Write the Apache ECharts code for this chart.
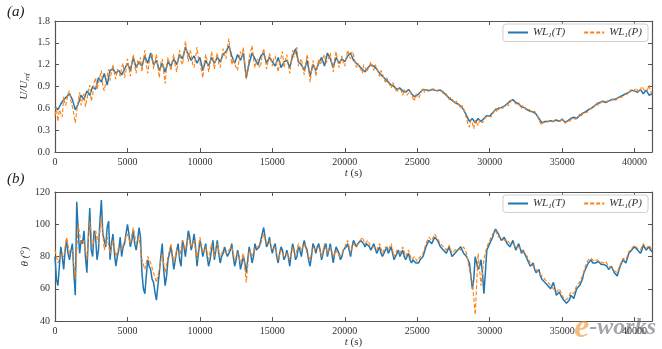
<!DOCTYPE html>
<html><head><meta charset="utf-8">
<script src="https://cdn.jsdelivr.net/npm/echarts@6/dist/echarts.min.js"></script>
<style>html,body{margin:0;padding:0;background:#fff}#c{width:662px;height:349px}</style>
</head><body><div id="c"></div>
<script>
// sampling steps of the time axis (s)
const stepCoarse = 200;
const stepFine = 100;
const xTicks = [0, 5000, 10000, 15000, 20000, 25000, 30000, 35000, 40000];
const uTicks = [0.0, 0.3, 0.6, 0.9, 1.2, 1.5, 1.8];
const thetaTicks = [40, 60, 80, 100, 120];
const seriesNames = ['WL1(T)', 'WL1(P)'];

// (a) U/Uref, true (step 200 s)
const uTrue = [
0.62,0.58,0.66,0.72,0.76, 0.80,0.72,0.58,0.66,0.78, 0.72,0.84,0.78,0.90,0.86, 1.02,0.96,1.08,0.92,1.12,
1.14,1.08,1.12,1.06,1.14, 1.22,1.12,1.30,1.16,1.24, 1.18,1.32,1.22,1.36,1.20, 1.26,1.12,1.22,1.10,1.24,
1.18,1.28,1.20,1.34,1.28, 1.44,1.34,1.26,1.32,1.22, 1.30,1.12,1.26,1.18,1.30, 1.22,1.30,1.24,1.34,1.38,
1.46,1.32,1.22,1.34,1.26, 1.36,1.02,1.22,1.36,1.28, 1.20,1.32,1.36,1.22,1.30, 1.24,1.18,1.30,1.16,1.24,
1.26,1.16,1.32,1.42,1.24, 1.20,1.12,1.26,1.04,1.20, 1.12,1.22,1.30,1.18,1.36, 1.28,1.16,1.30,1.22,1.28,
1.24,1.32,1.36,1.26,1.22, 1.18,1.14,1.10,1.16,1.20, 1.18,1.14,1.08,1.04,1.00, 0.96,0.92,0.90,0.86,0.88,
0.84,0.82,0.86,0.80,0.76, 0.78,0.82,0.86,0.85,0.84, 0.86,0.85,0.84,0.85,0.82, 0.78,0.74,0.71,0.68,0.66,
0.63,0.58,0.50,0.42,0.46, 0.40,0.46,0.42,0.46,0.50, 0.49,0.54,0.58,0.60,0.61, 0.63,0.66,0.70,0.72,0.68,
0.66,0.62,0.61,0.58,0.56, 0.55,0.52,0.46,0.40,0.42, 0.42,0.43,0.42,0.44,0.42, 0.45,0.41,0.43,0.46,0.48,
0.46,0.50,0.53,0.55,0.58, 0.60,0.63,0.66,0.68,0.70, 0.68,0.70,0.72,0.72,0.74, 0.76,0.78,0.80,0.82,0.85,
0.84,0.82,0.86,0.80,0.85, 0.78,0.80];
// (a) U/Uref, predicted (step 100 s)
const uPred = [
0.50,0.62,0.42,0.58,0.60,0.48,0.76,0.64,0.68,0.80, 0.84,0.70,0.62,0.52,0.40,0.56,0.70,0.82,0.64,0.74,
0.80,0.62,0.72,0.84,0.92,0.70,0.78,0.96,1.02,0.86, 0.88,1.04,1.12,0.90,0.84,0.96,1.04,1.14,0.98,1.10,
1.20,1.08,1.00,1.14,1.10,1.04,1.16,1.22,1.02,1.12, 1.28,1.16,1.04,1.22,1.34,1.18,1.08,1.26,1.20,1.30,
1.10,1.26,1.40,1.20,1.08,1.24,1.30,1.36,1.14,1.24, 1.34,1.18,1.02,1.22,1.28,1.10,0.94,1.16,1.30,1.22,
1.12,1.26,1.34,1.18,1.10,1.28,1.40,1.24,1.20,1.34, 1.52,1.36,1.24,1.40,1.36,1.20,1.16,1.30,1.44,1.28,
1.24,1.12,1.02,1.22,1.34,1.26,1.10,1.20,1.38,1.30, 1.14,1.28,1.36,1.22,1.16,1.30,1.42,1.34,1.28,1.44,
1.56,1.36,1.20,1.28,1.30,1.16,1.12,1.26,1.38,1.30, 1.44,1.22,1.00,1.14,1.30,1.38,1.46,1.28,1.16,1.24,
1.28,1.16,1.20,1.34,1.42,1.30,1.14,1.24,1.36,1.28, 1.18,1.28,1.32,1.20,1.10,1.22,1.30,1.38,1.16,1.26,
1.34,1.20,1.08,1.24,1.40,1.30,1.32,1.44,1.18,1.24, 1.28,1.16,1.06,1.20,1.34,1.22,0.96,1.10,1.26,1.18,
1.04,1.16,1.28,1.20,1.24,1.30,1.34,1.22,1.22,1.30, 1.36,1.22,1.10,1.28,1.38,1.26,1.16,1.24,1.32,1.22,
1.18,1.30,1.40,1.32,1.28,1.38,1.34,1.24,1.16,1.22, 1.24,1.14,1.08,1.20,1.16,1.10,1.10,1.18,1.24,1.16,
1.12,1.20,1.18,1.10,1.04,1.12,1.08,1.00,0.96,1.02, 1.00,0.92,0.88,0.96,0.94,0.86,0.82,0.88,0.90,0.84,
0.78,0.86,0.86,0.78,0.76,0.84,0.84,0.74,0.70,0.80, 0.80,0.74,0.76,0.84,0.88,0.82,0.82,0.86,0.86,0.84,
0.84,0.87,0.88,0.84,0.82,0.86,0.86,0.83,0.80,0.82, 0.80,0.76,0.72,0.75,0.74,0.70,0.66,0.70,0.68,0.64,
0.60,0.64,0.62,0.54,0.46,0.38,0.34,0.44,0.40,0.32, 0.44,0.40,0.36,0.44,0.46,0.40,0.42,0.47,0.48,0.50,
0.52,0.48,0.50,0.56,0.60,0.55,0.57,0.61,0.63,0.60, 0.60,0.66,0.68,0.64,0.66,0.71,0.73,0.69,0.66,0.68,
0.68,0.63,0.60,0.64,0.63,0.58,0.56,0.59,0.58,0.55, 0.53,0.56,0.54,0.49,0.44,0.40,0.37,0.41,0.43,0.40,
0.40,0.43,0.44,0.41,0.40,0.44,0.45,0.42,0.40,0.43, 0.46,0.42,0.39,0.42,0.44,0.41,0.44,0.47,0.49,0.45,
0.44,0.48,0.52,0.49,0.51,0.55,0.57,0.54,0.56,0.60, 0.62,0.59,0.61,0.65,0.68,0.64,0.66,0.69,0.71,0.68,
0.67,0.70,0.72,0.69,0.70,0.73,0.74,0.71,0.73,0.76, 0.78,0.75,0.76,0.80,0.82,0.79,0.80,0.85,0.87,0.83,
0.82,0.88,0.86,0.82,0.84,0.90,0.88,0.84,0.82,0.86, 0.92,0.84,0.80];
// (b) theta, true (step 100 s)
const thTrue = [
80,66,62,74,86,80,72,84,90,82, 78,84,88,70,56,114,96,82,90,88, 96,80,70,92,110,84,80,96,92,78,
84,102,115,94,90,86,98,102,78,88, 94,82,74,80,84,92,80,86,88,94, 100,94,86,90,96,88,84,90,98,92,
70,60,57,68,78,74,72,66,64,58, 53,62,70,80,88,72,62,68,78,82, 86,80,72,78,84,88,78,74,90,86,
80,88,96,92,84,88,94,86,74,82, 90,86,80,84,88,80,74,78,84,90, 78,84,90,82,76,80,82,86,86,80,
80,84,88,80,74,78,84,80,72,76, 80,76,70,78,86,82,76,80,88,84, 84,86,90,94,98,92,86,88,92,86,
82,86,88,80,76,82,86,84,78,80, 84,80,74,82,88,84,78,80,86,84, 80,86,90,86,84,78,74,80,88,86,
82,86,88,84,78,82,86,88,80,84, 88,82,76,82,86,84,82,78,80,84, 84,86,88,84,80,86,90,88,86,88,
88,90,91,88,86,88,89,86,84,86, 88,85,82,84,86,82,80,82,84,86, 82,84,86,82,78,80,82,84,80,82,
84,80,78,80,82,78,76,78,78,76, 75,76,78,79,80,83,86,88,90,89, 88,90,92,91,90,88,86,85,84,83,
82,84,86,83,80,81,82,83,84,85, 86,84,82,81,80,78,76,68,60,66, 80,76,72,74,78,70,57,70,84,86,
88,90,92,95,97,96,94,92,90,91, 92,90,88,87,86,88,90,87,84,86, 88,85,82,84,85,80,78,76,74,75,
76,72,70,71,72,68,66,65,64,63, 62,61,60,62,64,60,56,57,58,56, 55,53,52,51,51,53,56,55,54,57,
60,61,62,64,66,70,72,74,76,77, 78,76,75,76,77,77,76,75,74,75, 76,74,72,73,74,72,70,69,68,71,
74,76,78,77,76,79,82,83,84,85, 86,85,84,83,82,84,87,86,84,85, 86,84,83];
// (b) theta, predicted (step 200 s)
const thPred = [
84,76,82,80,92, 82,84,66,100,88, 90,78,102,86,96, 88,104,84,92,82,
90,80,86,84,90, 94,88,98,88,92, 78,72,80,76,70, 64,72,82,70,80,
88,76,84,80,90, 84,92,86,90,78, 92,82,86,78,88, 80,88,80,84,82,
84,86,78,82,76, 82,64,84,80,86, 86,88,94,88,90, 84,86,78,84,80,
82,78,86,80,88, 84,88,82,78,86, 84,86,80,88,82, 86,80,84,80,82,
86,90,82,88,86, 89,92,88,90,86, 86,84,88,82,86, 84,88,80,84,82,
86,80,84,78,80, 77,80,82,88,92, 90,94,91,88,86, 84,87,82,84,85,
84,86,82,72,64, 44,82,62,78,86, 90,94,96,92,92, 90,90,88,88,86,
86,84,82,80,76, 74,72,70,68,66, 64,62,60,58,60, 56,53,54,58,57,
62,64,68,74,78, 79,77,78,77,76, 77,74,73,71,70, 75,79,78,83,85,
87,85,84,88,85, 87,84];

const pairs = (arr, step) => arr.map((v, i) => [i * step, v]);
const FONT = '"Liberation Serif","DejaVu Serif",serif';
const BLUE = '#1f77b4', ORANGE = '#ff7f0e', FRAME = '#555';

function xAx(gi, show) {
  return {
    type: 'value', gridIndex: gi, min: 0, max: 41200, interval: 5000,
    position: show ? 'bottom' : 'top',
    axisLine: { show: true, onZero: false, lineStyle: { color: FRAME, width: 1.2 } },
    axisTick: { show: true, inside: true, length: 4, lineStyle: { color: FRAME } },
    axisLabel: { show: show, color: '#333', fontFamily: FONT, fontSize: 10, margin: 5,
      showMaxLabel: false, formatter: v => String(v) },
    splitLine: { show: false },
    name: show ? '{i|t} (s)' : '', nameLocation: 'middle', nameGap: 14,
    nameTextStyle: { fontFamily: FONT, fontSize: 11, color: '#333', rich: { i: { fontStyle: 'italic', fontFamily: FONT, fontSize: 11, color: '#333' } } }
  };
}
function yAx(gi, min, max, interval, show, name, fmt) {
  return {
    type: 'value', gridIndex: gi, min, max, interval,
    position: show ? 'left' : 'right',
    axisLine: { show: true, onZero: false, lineStyle: { color: FRAME, width: 1.2 } },
    axisTick: { show: true, inside: true, length: 4, lineStyle: { color: FRAME } },
    axisLabel: { show: show, color: '#333', fontFamily: FONT, fontSize: 10, margin: 5, formatter: fmt },
    splitLine: { show: false },
    name: show ? name : '', nameLocation: 'middle', nameGap: 24, nameRotate: 90,
    nameMoveOverlap: false,
    nameTextStyle: { fontFamily: FONT, fontSize: 11, color: '#333', fontStyle: 'italic',
      rich: { s: { fontSize: 7, fontStyle: 'italic', fontFamily: FONT, color: '#333', padding: [6, 0, 0, 0] },
              i: { fontSize: 11, fontStyle: 'italic', fontFamily: FONT, color: '#333' },
              n: { fontSize: 11, fontStyle: 'italic', fontFamily: FONT, color: '#333' } } }
  };
}
const legendRich = { i: { fontStyle: 'italic', fontFamily: FONT, fontSize: 11, color: '#333' },
  s: { fontStyle: 'italic', fontFamily: FONT, fontSize: 7, color: '#333', padding: [5, 0, 0, 0] } };
const legendFmt = n => n === seriesNames[0] ? '{i|WL}{s|1}{i|(T)}' : '{i|WL}{s|1}{i|(P)}';
function legend(top) {
  return {
    data: [seriesNames[0], seriesNames[1]], right: 14, top: top, orient: 'horizontal',
    itemWidth: 20, itemHeight: 8, itemGap: 18, padding: [3, 6, 3, 4],
    borderColor: '#d0d0d0', borderWidth: 1, borderRadius: 3, backgroundColor: '#fff',
    itemStyle: { opacity: 0, borderWidth: 0 },
    formatter: legendFmt, textStyle: { rich: legendRich, fontFamily: FONT }
  };
}
const chart = echarts.init(document.getElementById('c'), null, { renderer: 'canvas' });
function line(name, data, xi, yi, color, dashed, z) {
  return {
    name, type: 'line', xAxisIndex: xi, yAxisIndex: yi, data, showSymbol: false, symbol: 'none',
    animation: false, z,
    lineStyle: { color, width: dashed ? 1.1 : 1.5, type: dashed ? [4, 2] : 'solid' },
    itemStyle: { color }
  };
}
chart.setOption({
  animation: false,
  backgroundColor: '#fff',
  grid: [
    { left: 55, right: 10, top: 21, height: 131 },
    { left: 55, right: 10, top: 192, height: 132 }
  ],
  legend: [legend(24), legend(195)],
  xAxis: [xAx(0, true), xAx(1, true), xAx(0, false), xAx(1, false)],
  yAxis: [
    yAx(0, 0, 1.8, 0.3, true, '{n|U/U}{s|ref}', v => v.toFixed(1)),
    yAx(1, 40, 120, 20, true, '{i|θ} (°)', v => String(v)),
    yAx(0, 0, 1.8, 0.3, false, ''),
    yAx(1, 40, 120, 20, false, '')
  ],
  series: [
    line(seriesNames[0], pairs(uTrue, stepCoarse), 0, 0, BLUE, false, 2),
    line(seriesNames[1], pairs(uPred, stepFine), 0, 0, ORANGE, true, 3),
    line(seriesNames[0], pairs(thTrue, stepFine), 1, 1, BLUE, false, 2),
    line(seriesNames[1], pairs(thPred, stepCoarse), 1, 1, ORANGE, true, 3)
  ],
  graphic: [
    { type: 'text', left: 7, top: 5, style: { text: '(a)', font: 'italic 15px ' + FONT, fill: '#222' } },
    { type: 'text', left: 7, top: 172, style: { text: '(b)', font: 'italic 15px ' + FONT, fill: '#222' } },
    { type: 'text', right: 6, bottom: 4, z: 100, style: { text: '{e|e}{w|-works}', rich: {
        e: { font: 'italic bold 34px ' + FONT, fill: 'rgba(240,140,40,0.6)' },
        w: { font: 'italic bold 24px ' + FONT, fill: 'rgba(90,90,110,0.55)' } } } }
  ]
});
</script></body></html>
